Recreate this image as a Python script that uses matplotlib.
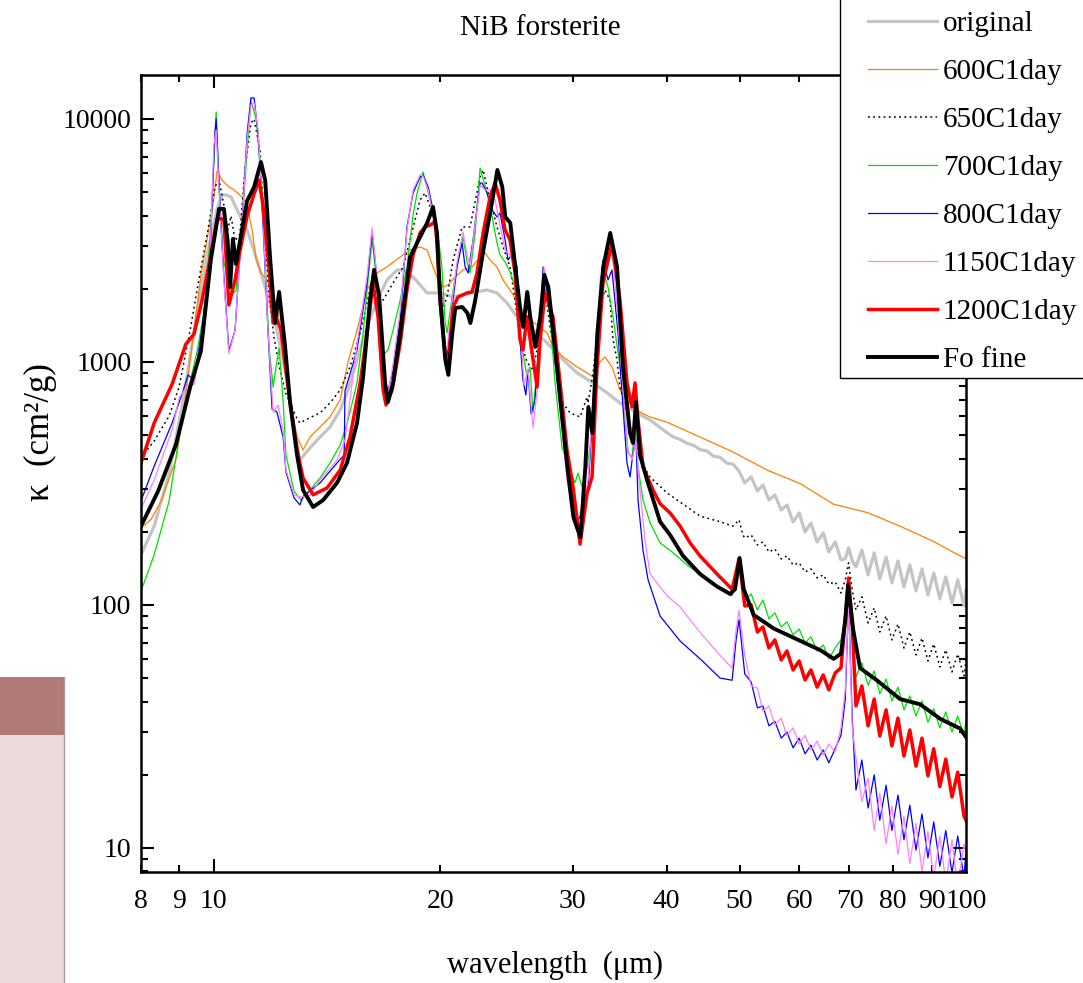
import numpy as np
import matplotlib
matplotlib.use("Agg")
import matplotlib.pyplot as plt
from matplotlib.ticker import FixedLocator, FuncFormatter, LogLocator, NullFormatter
from matplotlib.patches import Rectangle
from matplotlib.lines import Line2D

plt.rcParams['font.family'] = ['Liberation Serif', 'DejaVu Serif']

# ---------------- data (wavelength in um, kappa in cm^2/g) ----------------
labels = ["original", "600C1day", "650C1day", "700C1day", "800C1day",
          "1150C1day", "1200C1day", "Fo fine"]

# shared long-wavelength sampling (fringe region)
wl_tail_a = [50.8, 51.8, 52.8, 53.7, 54.7, 55.7, 56.8, 57.8, 58.9, 60.0, 61.1,
             62.2, 63.4, 64.6, 65.7, 67.0, 68.2]
wl_peak70 = [69.1, 69.8, 70.6]
wl_tail_b = [71.4, 72.7, 74.1, 75.5, 76.8, 78.3, 79.7, 81.2, 82.7, 84.2, 85.8,
             87.4, 89.0, 90.6, 92.3, 94.0, 95.8, 97.5, 99.4, 100.0]

# original (grey)
wl_orig_head = [8.00, 8.33, 8.72, 9.10, 9.50, 9.82, 10.10, 10.25, 10.38, 10.54, 10.83,
                11.07, 11.31, 11.55, 11.84, 12.13, 12.43, 12.74, 13.01, 13.42, 13.84,
                14.27, 14.72, 15.03, 15.50, 15.98, 16.48, 16.99, 17.52, 17.85, 18.40,
                19.21, 19.98, 20.80, 21.91, 23.08, 23.79, 24.53, 25.30, 26.32, 27.73,
                28.86, 30.40, 31.93, 33.32, 34.67, 36.52, 38.01, 40.05, 40.79, 41.68,
                42.58, 43.37, 44.31, 45.27, 46.09, 47.10, 48.11, 49.00, 49.92]
k_orig_head = [161, 211, 349, 691, 1606, 2863, 4263, 4868, 4868, 4775, 3989,
               3494, 2863, 2325, 1799, 1354, 927, 577, 395, 443, 491,
               540, 634, 746, 1019, 1393, 1799, 2175, 2391, 2391, 2238,
               1923, 1923, 1851, 1923, 1978, 1923, 1749, 1532, 1393, 1197,
               1049, 901, 820, 746, 678, 617, 577, 511, 492, 480,
               462, 455, 436, 430, 410, 405, 383, 380, 355]
k_orig_tail_a = [317.9, 336.4, 294.5, 311.7, 270.4, 283.6, 246.0, 257.9, 219.6, 239.1,
                 199.7, 217.5, 181.7, 197.8, 165.2, 181.7, 153.2]
k_orig_mid = [155, 172, 152]
k_orig_tail_b = [143.4, 168.4, 132.9, 163.7, 127.9, 157.6, 123.2, 151.7, 118.6, 146.1,
                 114.2, 140.7, 109.9, 135.4, 105.9, 130.4, 101.9, 126.7, 99.1, 115.3]

# 600C1day (orange)
wl_600 = [8.00, 8.25, 8.51, 8.91, 9.15, 9.41, 9.61, 9.82, 9.97, 10.10, 10.25, 10.47,
          10.60, 10.90, 11.07, 11.24, 11.38, 11.55, 11.77, 11.95, 12.17, 12.36, 12.62,
          12.90, 13.14, 13.42, 13.84, 14.27, 14.72, 15.08, 15.50, 15.98, 16.48, 16.99,
          17.69, 18.23, 18.80, 19.21, 19.56, 19.86, 20.17, 20.48, 20.93, 21.44, 22.04,
          22.59, 22.94, 23.29, 23.79, 24.24, 24.91, 25.53, 26.32, 27.15, 27.73, 28.24,
          29.12, 30.40, 31.35, 31.93, 32.62, 33.11, 33.83, 34.67, 35.42, 36.08, 36.86,
          38.0, 40.0, 44.3, 49.0, 54.4, 60.3, 66.6, 73.9, 81.7, 90.4, 96.1, 100.0]
k_600 = [207, 225, 268, 399, 691, 1354, 2259, 3363, 4427, 6110, 5610, 5250,
         5152, 4775, 4427, 3494, 2654, 2325, 2175, 1960, 1606, 1029, 691,
         491, 434, 491, 540, 594, 698, 1000, 1354, 1978, 2325, 2460,
         2704, 2891, 2973, 2891, 2460, 2175, 2035, 2075, 2238, 2391, 2460,
         2704, 2809, 2628, 2460, 2175, 1923, 1684, 1489, 1393, 1316, 1153,
         1049, 954, 901, 868, 1000, 1049, 954, 767, 698, 653, 622,
         594, 566, 491, 426, 359, 315, 260, 240, 211, 183, 165, 155]

# 650C1day (dotted black)
wl_650_head = [8.00, 8.33, 8.72, 8.99, 9.30, 9.55, 9.82, 10.03, 10.16, 10.31, 10.43,
               10.54, 10.67, 10.83, 11.00, 11.20, 11.31, 11.52, 11.70, 11.84, 12.02,
               12.21, 12.47, 12.90, 13.01, 13.42, 13.84, 14.27, 14.72, 15.17, 15.65,
               15.98, 16.23, 16.48, 16.79, 17.31, 17.85, 18.23, 18.80, 19.09, 19.39,
               19.68, 19.98, 20.17, 20.42, 20.80, 21.38, 21.91, 22.59, 22.80, 23.29,
               23.79, 24.24, 24.76, 25.14, 25.53, 26.08, 26.57, 27.15, 27.56, 27.99,
               28.59, 29.12, 29.75, 30.68, 31.35, 31.44, 31.93, 32.62, 33.11, 33.63,
               33.94, 34.36, 34.67, 35.21, 35.75, 36.30, 36.86, 38.01, 40.05, 44.31,
               47.10, 49.00, 49.92, 50.5]
k_650_head = [403, 473, 600, 789, 1354, 2175, 3494, 5250, 5610, 4427, 3494,
              3989, 3148, 3363, 6220, 9627, 10000, 7385, 3148, 1905, 1267,
              962, 739, 584, 561, 590, 617, 678, 767, 954, 1316,
              1749, 2175, 1978, 1799, 2114, 2460, 3178, 4642, 4960, 4345,
              3594, 2114, 1684, 1851, 2628, 3594, 3594, 5772, 6167, 4642,
              3594, 2973, 2460, 1799, 1232, 1000, 927, 1316, 1978, 1393,
              901, 678, 617, 594, 718, 678, 901, 1684, 1978, 1799,
              1232, 1019, 789, 653, 540, 478, 395, 336, 289, 232,
              220, 211, 224, 194]
k_650_tail_a = [188.7, 194.1, 176.6, 181.7, 165.2, 170.0, 154.6, 159.1, 146.1, 148.9,
                136.7, 140.7, 129.2, 132.9, 122.0, 124.3, 112.0]
k_650_peak70 = [127, 149, 115]
k_650_tail_b = [95.4, 107.9, 84.3, 97.2, 77.4, 90.1, 71.8, 83.5, 66.5, 77.4,
                62.3, 73.1, 58.8, 69.1, 55.6, 65.3, 53.0, 62.8, 51.0, 59.4]

# 700C1day (green)
wl_700_head = [8.00, 8.33, 8.72, 8.99, 9.24, 9.50, 9.76, 9.91, 10.07, 10.16, 10.28,
               10.43, 10.57, 10.70, 10.90, 11.07, 11.20, 11.38, 11.55, 11.70, 11.84,
               11.99, 12.10, 12.21, 12.36, 12.47, 12.78, 13.06, 13.42, 13.84, 14.27,
               14.72, 15.08, 15.50, 15.79, 16.03, 16.23, 16.43, 16.63, 16.79, 17.04,
               17.31, 17.69, 18.06, 18.40, 18.63, 18.97, 19.39, 19.80, 20.10, 20.29,
               20.42, 20.80, 21.12, 21.44, 21.71, 21.91, 22.25, 22.59, 23.08, 23.44,
               23.79, 24.01, 24.39, 24.76, 25.14, 25.69, 26.08, 26.32, 26.57, 26.90,
               27.40, 27.99, 28.42, 29.03, 29.75, 30.21, 30.49, 30.87, 31.35, 31.83,
               32.32, 32.62, 33.01, 33.42, 33.94, 34.67, 35.21, 35.53, 35.97, 36.30,
               36.64, 37.20, 38.01, 39.20, 40.79, 42.58, 45.27, 47.10, 48.87, 49.92]
k_700_head = [114, 161, 268, 491, 760, 1110, 1782, 3733, 10690, 5250, 2654,
              2259, 1905, 1960, 3733, 7385, 11860, 10000, 6220, 2654, 1142,
              789, 962, 1142, 691, 414, 294, 270, 297, 333, 384,
              455, 577, 820, 1316, 2175, 3178, 2280, 1354, 1069, 1120,
              1354, 1799, 2460, 4027, 4960, 6052, 4642, 3594, 2460, 1489,
              1316, 1978, 2628, 3269, 2579, 2325, 3395, 6285, 4960, 3951,
              3089, 2756, 2579, 2346, 2035, 1153, 868, 954, 617, 954,
              2325, 1532, 820, 447, 359, 318, 349, 306, 370, 511,
              1316, 1978, 2280, 2035, 1532, 954, 594, 422, 407, 540,
              370, 270, 218, 180, 164, 146, 127, 117, 109, 155]
k_700_tail_a = [104.9, 111, 95.4, 104.9, 87.6, 92.7, 81.2, 85.2, 75.3, 79.6,
                69.8, 74.0, 64.7, 68.5, 60.0, 66.5, 71.8]
k_700_peak70 = [83, 121, 72]
k_700_tail_b = [50.5, 57.7, 46.8, 53.5, 43.1, 49.5, 40.3, 45.9, 37.0, 42.2,
                34.9, 40.3, 32.9, 37.4, 31.2, 36.3, 30.0, 34.9, 28.9, 33.6]

# 800C1day (blue)
wl_800_head = [8.00, 8.33, 8.80, 9.10, 9.24, 9.41, 9.64, 9.88, 10.03, 10.07, 10.19,
               10.31, 10.47, 10.67, 10.90, 11.07, 11.20, 11.31, 11.45, 11.62, 11.80,
               11.95, 12.13, 12.36, 12.47, 12.78, 13.01, 13.14, 13.84, 14.58, 14.90,
               14.94, 15.50, 15.98, 16.23, 16.43, 16.63, 16.89, 16.99, 17.31, 17.69,
               18.06, 18.40, 18.80, 18.97, 19.27, 19.56, 19.86, 20.10, 20.29, 20.42,
               20.74, 21.05, 21.38, 21.58, 21.78, 22.11, 22.59, 22.73, 23.08, 23.44,
               23.79, 24.01, 24.39, 24.61, 24.99, 25.30, 25.53, 25.76, 25.99, 26.16,
               26.41, 26.73, 27.15, 27.40, 27.73, 28.24, 28.86, 29.48, 30.03, 30.49,
               31.15, 31.44, 31.93, 32.62, 32.91, 33.42, 33.83, 34.46, 34.99, 35.42,
               35.75, 36.08, 36.41, 36.64, 37.20, 37.78, 39.20, 41.68, 44.31, 47.10,
               48.87, 49.47, 49.92]
k_800_head = [268, 373, 561, 760, 884, 843, 1354, 2654, 8676, 10000, 4427,
              2259, 1110, 1354, 3733, 8676, 12200, 12200, 8676, 3733, 1354,
              641, 622, 491, 352, 276, 258, 280, 318, 384, 414,
              760, 1120, 2114, 3428, 2391, 1232, 767, 731, 927, 1489,
              3594, 4960, 5772, 5883, 5250, 4223, 2891, 1799, 1120, 1049,
              1684, 2460, 3089, 2460, 2325, 3178, 5452, 5452, 4960, 4223,
              3951, 4104, 3178, 2628, 2809, 2460, 1232, 843, 731, 927,
              610, 698, 1489, 2460, 1978, 1232, 653, 349, 253, 224,
              253, 297, 653, 1978, 2628, 2175, 2391, 1316, 653, 384,
              336, 422, 478, 270, 168, 127, 90, 71, 60, 50,
              49, 72, 87]
k_800_tail_a = [52.0, 48.2, 37.7, 38.4, 31.8, 33.2, 28.3, 30.0, 25.8, 28.3,
                24.4, 26.5, 23.0, 25.3, 22.4, 25.6, 29.1]
k_800_peak70 = [41, 105, 34]
k_800_tail_b = [17.3, 23.0, 14.6, 20.0, 13.0, 18.1, 11.8, 16.5, 10.8, 15.0,
                9.8, 13.8, 9.1, 12.8, 8.4, 11.8, 7.9, 11.2, 7.5, 9.8]

# 1150C1day (pink)
wl_1150_head = [8.00, 8.33, 8.80, 8.99, 9.24, 9.41, 9.64, 9.88, 10.00, 10.07, 10.19,
                10.31, 10.47, 10.67, 10.90, 11.07, 11.20, 11.31, 11.45, 11.62, 11.80,
                11.99, 12.17, 12.36, 12.47, 12.78, 13.01, 13.42, 13.84, 14.58, 14.94,
                15.50, 15.98, 16.23, 16.43, 16.63, 16.89, 17.04, 17.31, 17.69, 18.06,
                18.40, 18.80, 18.97, 19.27, 19.56, 19.86, 20.10, 20.29, 20.42, 20.74,
                21.05, 21.44, 21.71, 21.91, 22.25, 22.59, 22.94, 23.29, 23.65, 24.01,
                24.39, 24.76, 25.14, 25.53, 25.84, 26.16, 26.57, 26.90, 27.23, 27.48,
                27.82, 28.24, 28.86, 29.48, 30.03, 30.49, 31.00, 31.44, 31.93, 32.62,
                33.11, 33.63, 34.00, 34.46, 34.99, 35.53, 35.97, 36.41, 36.75, 37.43,
                38.01, 40.05, 41.68, 44.31, 47.10, 48.87, 49.47, 49.92]
k_1150_head = [248, 327, 525, 712, 805, 805, 1290, 2654, 7816, 9000, 4223,
               2175, 1080, 1354, 3663, 8200, 11400, 11650, 9000, 4027, 1354,
               622, 665, 525, 359, 284, 278, 282, 327, 395, 478,
               1186, 2238, 3560, 2440, 1232, 750, 731, 985, 1637, 3494,
               5100, 5883, 5830, 5100, 4027, 2756, 1799, 1175, 1120, 1799,
               2579, 3428, 2756, 2507, 3663, 5350, 5100, 5100, 4642, 3663,
               2891, 2756, 2507, 1489, 805, 927, 535, 767, 1799, 2440,
               2075, 1232, 634, 327, 246, 228, 258, 327, 698, 2175,
               2579, 2891, 2507, 1489, 767, 434, 395, 478, 327, 185,
               134, 109, 98, 77, 62, 55, 79, 95]
k_1150_tail_a = [61.7, 46.4, 45.5, 36.6, 38.4, 32.1, 34.2, 28.9, 31.2, 26.8,
                 29.1, 25.3, 27.5, 24.1, 26.8, 24.8, 31.2]
k_1150_peak70 = [45, 100, 31]
k_1150_tail_b = [23.4, 15.5, 19.4, 11.8, 16.8, 10.4, 14.9, 9.4, 13.5, 8.6,
                 12.6, 8.0, 11.7, 7.5, 11.2, 7.2, 10.8, 7.0, 10.4, 9.4]

# 1200C1day (red)
wl_1200_head = [8.00, 8.33, 8.80, 9.18, 9.41, 9.64, 9.88, 10.10, 10.31, 10.47, 10.67,
                10.83, 11.07, 11.31, 11.48, 11.62, 11.84, 11.99, 12.13, 12.28, 12.62,
                12.90, 13.14, 13.55, 14.14, 14.72, 15.17, 15.65, 15.98, 16.28, 16.53,
                16.79, 16.94, 17.26, 17.69, 18.06, 18.40, 18.80, 19.09, 19.39, 19.68,
                19.80, 19.98, 20.29, 20.48, 20.80, 21.12, 21.71, 22.04, 22.38, 22.80,
                23.29, 23.65, 24.01, 24.39, 24.76, 25.14, 25.53, 25.76, 26.08, 26.49,
                26.90, 27.15, 27.56, 28.24, 28.86, 29.48, 30.03, 30.68, 31.35, 31.83,
                32.32, 32.91, 33.83, 34.67, 35.42, 35.97, 36.30, 36.64, 37.20, 38.36,
                39.20, 40.42, 41.68, 42.97, 44.31, 46.67, 48.87, 49.92]
k_1200_head = [384, 561, 811, 1186, 1303, 1782, 2654, 3877, 3877, 1716, 2175,
               2863, 3990, 4913, 5610, 4426, 2414, 1446, 1489, 1355, 692,
               434, 333, 284, 303, 359, 491, 820, 1316, 2114, 1532,
               767, 665, 767, 1197, 1978, 2756, 3395, 3594, 3663, 3767,
               3089, 1799, 1089, 954, 1684, 1851, 1923, 1941, 2325, 3395,
               4775, 5452, 4642, 3494, 3178, 2325, 1232, 1120, 1532, 1089,
               789, 1232, 1923, 1532, 820, 434, 306, 178, 289, 336,
               954, 2114, 3089, 1799, 820, 653, 820, 577, 370, 297,
               261, 239, 211, 180, 159, 134, 116, 155]
k_1200_tail_a = [99, 100, 77.4, 81.2, 66.5, 71.8, 59.4, 64.7, 54.0, 58.8,
                 49.1, 54.0, 45.9, 51.5, 44.7, 52.5, 55.1]
k_1200_peak70 = [87, 129, 83]
k_1200_tail_b = [38.4, 46.4, 31.8, 41.0, 28.9, 37.0, 26.3, 34.2, 23.9, 30.6,
                 21.7, 28.3, 19.8, 25.6, 17.9, 23.2, 16.2, 20.5, 13.5, 13.0]

# Fo fine (thick black)
wl_fo = [8.00, 8.43, 8.91, 9.30, 9.61, 9.91, 10.16, 10.31, 10.43, 10.51, 10.60, 10.70,
         11.07, 11.31, 11.55, 11.70, 11.88, 12.06, 12.21, 12.43, 12.62, 12.90, 13.14,
         13.55, 13.97, 14.58, 15.03, 15.50, 15.79, 16.13, 16.33, 16.58, 16.89, 17.04,
         17.31, 17.69, 18.23, 18.80, 19.21, 19.56, 19.80, 20.00, 20.31, 20.50, 20.75,
         20.94, 21.39, 21.73, 21.93, 22.26, 22.82, 23.46, 23.82, 24.18, 24.40, 24.78,
         25.16, 25.55, 25.78, 26.10, 26.34, 26.75, 27.16, 27.50, 27.84, 28.27, 28.88,
         29.51, 30.06, 30.71, 31.18, 31.47, 31.86, 32.35, 32.94, 33.65, 34.36, 34.99,
         35.75, 36.08, 36.41, 36.86, 37.66, 39.20, 40.42, 42.06, 44.30, 46.67, 48.57,
         49.3, 50.0, 50.64, 52.2, 55.5, 60.3, 64.1, 66.7, 68.2, 69.1, 69.7, 70.8, 72.3,
         76.1, 81.7, 86.9, 92.4, 98.2, 100.0]
k_fo = [211, 294, 460, 789, 1109, 2654, 4264, 4264, 3148, 2036, 3208, 2531,
        4600, 5250, 6650, 5610, 2654, 1446, 1941, 1175, 692, 414, 297,
        253, 270, 318, 384, 561, 867, 1799, 2393, 1888, 820, 684,
        820, 1316, 2704, 3268, 3733, 4345, 3396, 1799, 1019, 885, 1316,
        1668, 1683, 1591, 1446, 1799, 2891, 4644, 6170, 5250, 3951, 3733,
        2460, 1637, 1393, 1941, 1532, 1153, 1532, 2280, 2036, 1316, 698,
        370, 230, 190, 370, 653, 510, 1316, 2460, 3396, 2460, 953,
        510, 464, 684, 414, 327, 220, 194, 159, 134, 119, 111,
        116, 156, 116, 91, 80, 71, 65, 60, 63, 87, 121, 79, 55,
        49, 41, 39, 34, 31, 28.6]

# ---------------- assemble series ----------------
tail_wl = wl_tail_a + wl_peak70 + wl_tail_b
series_x = [
    wl_orig_head + tail_wl,
    wl_600,
    wl_650_head + tail_wl,
    wl_700_head + tail_wl,
    wl_800_head + tail_wl,
    wl_1150_head + tail_wl,
    wl_1200_head + tail_wl,
    wl_fo,
]
series_y = [
    k_orig_head + k_orig_tail_a + k_orig_mid + k_orig_tail_b,
    k_600,
    k_650_head + k_650_tail_a + k_650_peak70 + k_650_tail_b,
    k_700_head + k_700_tail_a + k_700_peak70 + k_700_tail_b,
    k_800_head + k_800_tail_a + k_800_peak70 + k_800_tail_b,
    k_1150_head + k_1150_tail_a + k_1150_peak70 + k_1150_tail_b,
    k_1200_head + k_1200_tail_a + k_1200_peak70 + k_1200_tail_b,
    k_fo,
]

styles = [
    dict(color='#c4c4c4', lw=2.3, ls='-'),
    dict(color='#ff8000', lw=0.9, ls='-'),
    dict(color='black', lw=1.1, ls=(0, (1.2, 2.2))),
    dict(color='#00e000', lw=0.9, ls='-'),
    dict(color='#0000ff', lw=0.9, ls='-'),
    dict(color='#ff80ff', lw=0.9, ls='-'),
    dict(color='#ff0000', lw=2.5, ls='-'),
    dict(color='black', lw=2.8, ls='-'),
]

# ---------------- figure ----------------
W, H = 1083, 983
fig = plt.figure(figsize=(W / 100, H / 100), dpi=100)
ax = fig.add_axes([141 / W, (H - 872) / H, (966 - 141) / W, (872 - 75) / H])

handles = []
for x, y, st, lab in zip(series_x, series_y, styles, labels):
    n = min(len(x), len(y))
    h, = ax.plot(x[:n], y[:n], color=st['color'], lw=st['lw'], ls=st['ls'],
                 label=lab, solid_joinstyle='round')
    handles.append(h)

ax.set_xscale('log')
ax.set_yscale('log')
ax.set_xlim(8, 100)
ax.set_ylim(7.96, 15170)

ax.xaxis.set_major_locator(FixedLocator([10, 100]))
ax.xaxis.set_minor_locator(FixedLocator([8, 9, 20, 30, 40, 50, 60, 70, 80, 90]))
fmt = FuncFormatter(lambda v, p: f"{v:g}")
ax.xaxis.set_major_formatter(fmt)
ax.xaxis.set_minor_formatter(fmt)
ax.yaxis.set_major_locator(LogLocator(base=10, numticks=10))
ax.yaxis.set_minor_locator(LogLocator(base=10, subs=np.arange(2, 10), numticks=20))
ax.yaxis.set_major_formatter(FuncFormatter(lambda v, p: f"{int(round(v))}"))
ax.yaxis.set_minor_formatter(NullFormatter())

ax.tick_params(which='both', direction='in', top=True, right=True,
               labelsize=20, width=1.5)
ax.tick_params(which='major', length=9.5)
ax.tick_params(which='minor', length=5)
ax.tick_params(axis='x', which='both', pad=12)
ax.tick_params(axis='y', which='both', pad=7)
for sp in ax.spines.values():
    sp.set_linewidth(1.8)

# texts
fig.text(540 / W, 1 - 28 / H, "NiB forsterite", ha='center', va='center', fontsize=21)
fig.text(555 / W, 1 - 965 / H, "wavelength  (μm)", ha='center', va='center', fontsize=22)
fig.text(40 / W, 1 - 432 / H, "κ  (cm²/g)", ha='center', va='center', fontsize=25,
         rotation=90)

# legend: white box with black border, partly outside the figure
fig.patches.append(Rectangle((840 / W, 1 - 378 / H), 300 / W, 400 / H,
                             transform=fig.transFigure, facecolor='white',
                             edgecolor='black', lw=1.0, zorder=4))
leg = fig.legend(handles, labels, loc='lower left',
                 bbox_to_anchor=(868 / W, 1 - 373 / H), frameon=False,
                 fontsize=21, handlelength=2.36, handletextpad=0.2,
                 labelspacing=0.74, borderpad=0, borderaxespad=0)
leg.set_zorder(5)

# decorative panel at lower left
fig.patches.append(Rectangle((0, 0), 64 / W, (H - 735) / H, transform=fig.transFigure,
                             facecolor='#eddada', edgecolor='none', zorder=0))
fig.patches.append(Rectangle((0, (H - 735) / H), 64 / W, 58 / H, transform=fig.transFigure,
                             facecolor='#b07a78', edgecolor='none', zorder=0))
fig.lines.append(Line2D([63.5 / W, 63.5 / W], [0, (H - 677) / H], transform=fig.transFigure,
                        color='#a89a9a', lw=1.0))

fig.savefig("out.png", dpi=100)
